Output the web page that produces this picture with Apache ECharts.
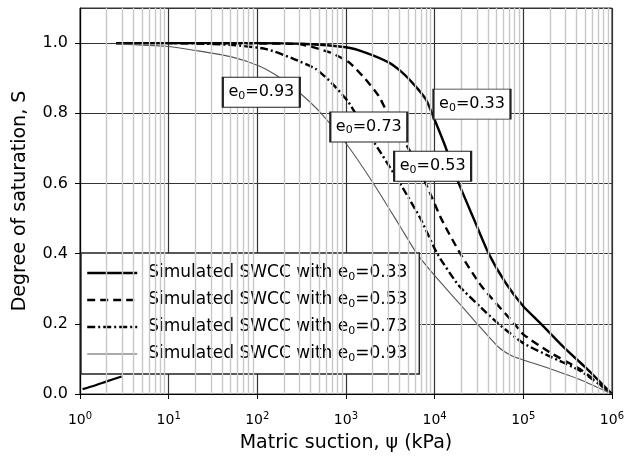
<!DOCTYPE html>
<html>
<head>
<meta charset="utf-8">
<script src="https://cdn.jsdelivr.net/npm/echarts@6/dist/echarts.min.js"></script>
<style>html,body{margin:0;padding:0;background:#fff}#c{width:627px;height:463px}</style>
</head>
<body>
<div id="c"></div>
<script>
// Matric suction (kPa), degree of saturation S
var seriesNames = ['Simulated SWCC with e0=0.33','Simulated SWCC with e0=0.53','Simulated SWCC with e0=0.73','Simulated SWCC with e0=0.93'];
var e033 = [[2.57,1.0],[10,1.0],[100,1.0],[316,0.998],[1000,0.988],[1660,0.973],[3020,0.945],[4266,0.917],[6026,0.878],[7943,0.84],[9333,0.8],[13180,0.706],[17380,0.62],[27540,0.5],[40740,0.4],[63100,0.317],[100000,0.25],[158500,0.2],[295100,0.13],[537000,0.069],[1000000,0.0]];
var e053 = [[2.57,1.0],[10,1.0],[100,0.999],[295,0.997],[646,0.974],[1072,0.946],[1660,0.897],[2344,0.849],[2951,0.8],[5129,0.697],[7943,0.6],[12020,0.497],[19500,0.4],[33880,0.307],[79430,0.2],[100000,0.17],[204200,0.117],[446700,0.069],[1000000,0.0]];
var e073 = [[2.57,1.0],[10,1.0],[20,0.999],[50,0.995],[126,0.983],[245,0.957],[457,0.926],[692,0.886],[1072,0.831],[1622,0.756],[2089,0.716],[4074,0.6],[6918,0.5],[10720,0.4],[18620,0.31],[33880,0.245],[52480,0.2],[100000,0.145],[204200,0.106],[446700,0.065],[1000000,0.0]];
var e093 = [[2.57,0.997],[9.33,0.991],[22.4,0.977],[52.5,0.96],[105,0.935],[162,0.909],[295,0.86],[525,0.8],[1023,0.711],[2042,0.6],[4074,0.478],[6310,0.4],[10200,0.335],[17400,0.269],[29510,0.203],[52480,0.134],[75000,0.108],[100000,0.097],[190000,0.074],[446700,0.04],[1000000,0.0]];
var stray = [[1.07,0.014],[1.5,0.025],[2,0.036],[2.95,0.05]];
// annotation anchors [suction, S]
var labelNames = ['0.33','0.53','0.73','0.93'];
var labelAnchors = [[26400,0.826],[9500,0.649],[1810,0.761],[111,0.86]];
var xMin = 1, xMax = 1000000;
var yTicks = [0.0,0.2,0.4,0.6,0.8,1.0];

var minorX = [];
for (var d = 1; d < xMax; d *= 10) { for (var k = 2; k <= 9; k++) minorX.push(k * d); }

var FONT = 'DejaVu Sans';
var styles = [
  {color:'#000', width:2.4, type:'solid'},
  {color:'#000', width:2.4, type:[8,5]},
  {color:'#000', width:2.4, type:[8,3,2,3]},
  {color:'#555', width:1.1, type:'solid'}
];
var datas = [e033, e053, e073, e093];

function mkSeries(i) {
  return {
    name: seriesNames[i], type: 'line', data: datas[i], smooth: 0.2, symbol: 'none', z: 3,
    itemStyle: {color: styles[i].color},
    lineStyle: styles[i],
    markPoint: {
      symbol: 'rect', symbolSize: [77, 30], silent: true,
      itemStyle: {color:'#fff', borderColor:'#222', borderWidth:1.4},
      label: {show:true, position:'inside', color:'#000', fontFamily:FONT, fontSize:16, lineHeight:18,
        formatter: 'e{s|0}=' + labelNames[i],
        rich: {s:{fontSize:11, lineHeight:9, verticalAlign:'bottom', fontFamily:FONT, color:'#000'}}},
      data: [{coord: labelAnchors[i]}]
    }
  };
}

var chart = echarts.init(document.getElementById('c'), null, {renderer:'canvas'});
var series = [
  {name:'_grid', type:'line', data:[[1,-1]], symbol:'none', lineStyle:{width:0}, z:1, silent:true,
   markLine:{silent:true, symbol:'none', label:{show:false}, animation:false,
     lineStyle:{color:'#c8c8c8', width:1.4, type:'solid'},
     data: minorX.map(function(v){return {xAxis:v};})}}
];
for (var i = 0; i < 4; i++) series.push(mkSeries(i));
series.push({name:'_stray', type:'line', data:stray, smooth:0.3, symbol:'none', z:3, lineStyle:{color:'#000', width:2.2}});

chart.setOption({
  animation: false,
  backgroundColor: '#fff',
  grid: {left:80, right:13, top:8, bottom:69, show:true, borderColor:'#333', borderWidth:1, backgroundColor:'transparent'},
  xAxis: {
    type:'log', logBase:10, min:xMin, max:xMax, z:2,
    name:'Matric suction, \u03c8 (kPa)', nameLocation:'middle', nameGap:40,
    nameTextStyle:{fontFamily:FONT, fontSize:19, color:'#000'},
    axisLine:{show:true, lineStyle:{color:'#000', width:1.2}},
    axisTick:{show:true, length:5, lineStyle:{color:'#000'}},
    splitLine:{show:true, lineStyle:{color:'#333', width:1.2}},
    axisLabel:{margin:17, color:'#000', fontFamily:FONT,
      formatter:function(v){ return '{b|10}{s|' + Math.round(Math.log10(v)) + '}'; },
      rich:{b:{fontSize:14, lineHeight:16, verticalAlign:'bottom', fontFamily:FONT, color:'#000'},
            s:{fontSize:10, lineHeight:10, verticalAlign:'top', fontFamily:FONT, color:'#000'}}}
  },
  yAxis: {
    type:'value', min:0, max:1.1, interval:0.2, z:2,
    name:'Degree of saturation, S', nameLocation:'middle', nameGap:50, nameRotate:90,
    nameTextStyle:{fontFamily:FONT, fontSize:19, color:'#000'},
    axisLine:{show:true, lineStyle:{color:'#000', width:1.2}},
    axisTick:{show:true, length:5, lineStyle:{color:'#000'}},
    splitLine:{show:true, lineStyle:{color:'#333', width:1.2}},
    axisLabel:{margin:12, color:'#000', fontFamily:FONT, fontSize:16, showMaxLabel:false,
      formatter:function(v){ return yTicks.indexOf(Math.round(v*10)/10) >= 0 ? v.toFixed(1) : ''; }}
  },
  legend: {
    orient:'vertical', left:81, top:253, itemWidth:50, itemHeight:20, itemGap:7,
    padding:[10,12,10,5], backgroundColor:'#fff', borderColor:'#222', borderWidth:1.4, borderRadius:0,
    selectedMode:false, z:5,
    data: seriesNames.map(function(n, i){ return {name:n, lineStyle: styles[i],
      itemStyle:{color:'rgba(0,0,0,0)', borderColor:'rgba(0,0,0,0)', borderWidth:0, opacity:0}}; }),
    formatter: function(n){ return n.replace('e0=', 'e{s|0}='); },
    textStyle:{fontFamily:FONT, fontSize:17, lineHeight:20, color:'#000', padding:[0,0,0,6],
      rich:{s:{fontSize:11, lineHeight:12, verticalAlign:'bottom', fontFamily:FONT, color:'#000'}}}
  },
  series: series
});
</script>
</body>
</html>
